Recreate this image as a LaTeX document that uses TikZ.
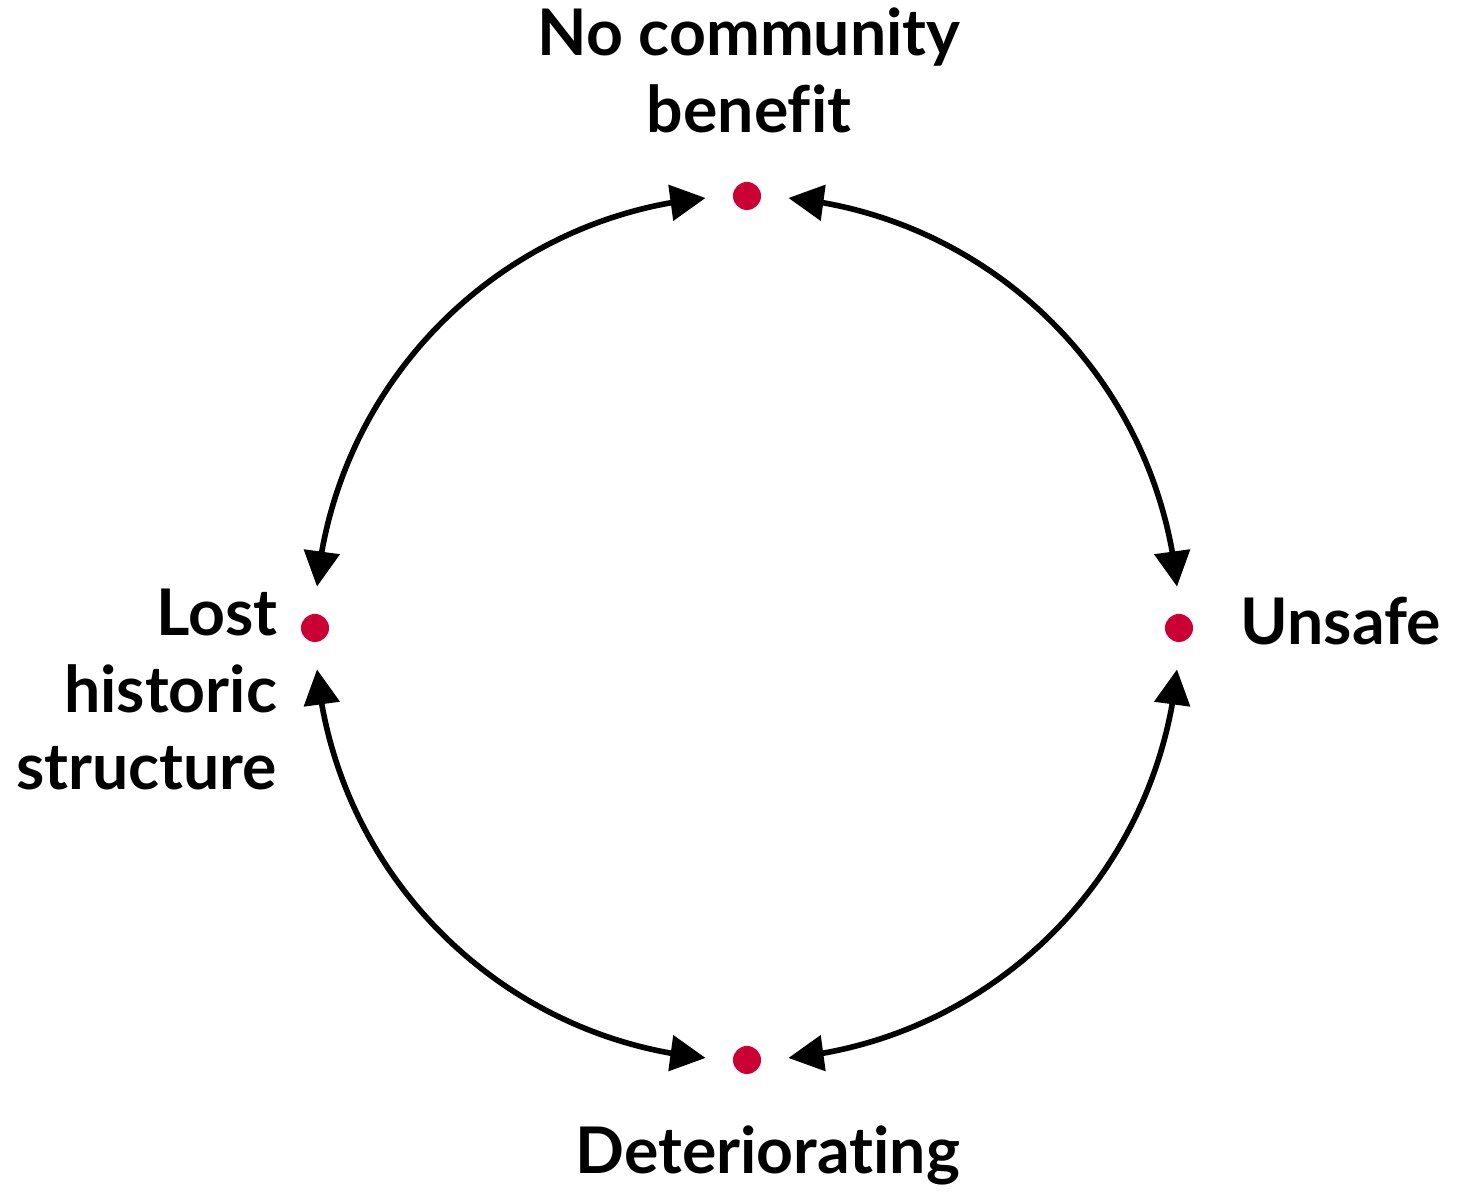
\documentclass[tikz,border=0pt]{standalone}
\usepackage{fontspec}
\setmainfont{Lato}[RawFeature={-liga,-dlig}]
\usetikzlibrary{arrows.meta,bending,calc}
\definecolor{dotred}{RGB}{204,0,51}
\tikzset{
  dotnode/.style={circle,fill=dotred,inner sep=0pt,minimum size=0.28cm},
  lbl/.style={inner sep=0pt,font=\fontsize{18.3}{22.0}\selectfont\bfseries},
  cyc/.style={line width=1.6pt,{Triangle[length=10pt,width=10pt]}-{Triangle[length=10pt,width=10pt]},bend right=39.5,looseness=0.96}
}
\begin{document}
\begin{tikzpicture}[x=0.01cm,y=0.01cm]
\useasboundingbox (0,0) rectangle (1468,1195);
\coordinate (C) at (747,567);
\node[dotnode] (T) at (747,999) {};
\node[dotnode] (R) at (1179,567) {};
\node[dotnode] (B) at (747,135) {};
\node[dotnode] (L) at (315,567) {};
\foreach \n/\a in {t1/95.5,t2/84.5,r1/5.5,r2/-5.5,b1/-84.5,b2/-95.5,l1/185.5,l2/174.5}
  \coordinate (\n) at ($(C)+(\a:432)$);
\draw[cyc] (t1) to (l2);
\draw[cyc] (l1) to (b2);
\draw[cyc] (b1) to (r2);
\draw[cyc] (r1) to (t2);
\node[lbl,align=center,anchor=base] (tl) at (749,1062) {No community\\benefit};
\node[lbl,align=right,anchor=base east] (ll) at (278,405) {Lost\\historic\\structure};
\node[lbl,anchor=base west] (rl) at (1240,550) {Unsafe};
\node[lbl,anchor=base west] (bl) at (575,21) {Deteriorating};
\end{tikzpicture}
\end{document}
